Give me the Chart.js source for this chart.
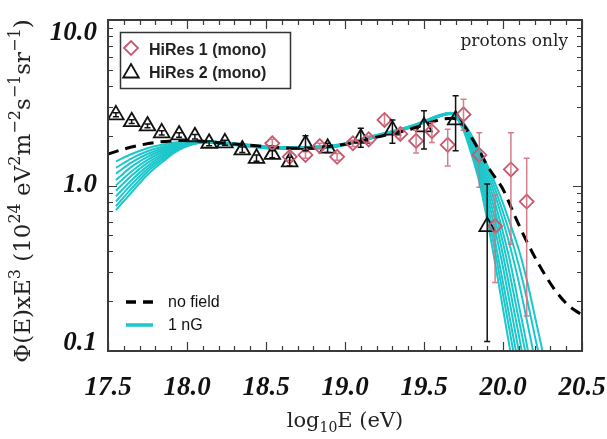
<!DOCTYPE html>
<html>
<head>
<meta charset="utf-8">
<script src="https://cdn.jsdelivr.net/npm/chart.js@4.4.0/dist/chart.umd.min.js"></script>
<style>
    html, body { margin: 0; padding: 0; background: #fff; }
    #wrap { width: 607px; height: 439px; }
</style>
</head>
<body>
<div id="wrap"><canvas id="spectrumChart" width="607" height="439"></canvas></div>
<script>
// HiRes 1 monocular spectrum (log10 E, flux x E^3 in 1e24 units, error range)
const hires1Energy = [18.54, 18.65, 18.75, 18.84, 18.95, 19.05, 19.15, 19.25, 19.35, 19.45, 19.55, 19.65, 19.75, 19.85, 19.95, 20.05, 20.15];
const hires1Flux   = [1.80, 1.49, 1.53, 1.73, 1.49, 1.80, 1.90, 2.49, 2.05, 1.86, 2.13, 1.76, 2.69, 1.53, 0.569, 1.25, 0.80];
const hires1Low    = [1.72, 1.42, 1.46, 1.66, 1.42, 1.72, 1.82, 2.32, 1.92, 1.57, 1.82, 1.31, 2.16, 0.975, 0.259, 0.441, 0.163];
const hires1High   = [1.90, 1.57, 1.60, 1.80, 1.56, 1.88, 1.99, 2.68, 2.20, 2.16, 2.40, 2.19, 3.32, 2.08, 0.877, 2.08, 1.46];

// HiRes 2 monocular spectrum
const hires2Energy = [17.55, 17.65, 17.75, 17.84, 17.95, 18.05, 18.14, 18.24, 18.35, 18.44, 18.54, 18.65, 18.75, 18.89, 19.10, 19.30, 19.50, 19.70, 19.90];
const hires2Flux   = [2.67, 2.43, 2.29, 2.08, 2.02, 1.97, 1.80, 1.81, 1.64, 1.46, 1.54, 1.39, 1.77, 1.68, 1.93, 2.16, 2.26, 2.49, 0.564];
const hires2Low    = [2.60, 2.37, 2.23, 2.02, 1.96, 1.91, 1.74, 1.75, 1.58, 1.40, 1.47, 1.31, 1.62, 1.58, 1.70, 1.80, 1.66, 1.62, 0.114];
const hires2High   = [2.75, 2.50, 2.35, 2.14, 2.08, 2.03, 1.86, 1.88, 1.71, 1.53, 1.62, 1.48, 2.00, 1.80, 2.22, 2.49, 2.83, 3.48, 1.02];

// propagation without magnetic field
const noFieldEnergy = [17.5, 17.6, 17.7, 17.8, 17.9, 18.0, 18.1, 18.3, 18.5, 18.7, 18.9, 19.1, 19.2, 19.4, 19.55, 19.62, 19.68, 19.75, 19.8, 19.85, 19.9, 19.95, 20.0, 20.07, 20.15, 20.23, 20.32, 20.41, 20.5];
const noFieldFlux   = [1.55, 1.66, 1.75, 1.82, 1.86, 1.87, 1.85, 1.78, 1.72, 1.68, 1.72, 1.85, 1.96, 2.17, 2.42, 2.52, 2.55, 2.32, 1.95, 1.62, 1.32, 1.12, 0.95, 0.67, 0.46, 0.33, 0.24, 0.19, 0.165];

// 1 nG field, one curve per source realisation
const nGEnergy = [17.55, 17.65, 17.75, 17.85, 17.95, 18.1, 18.3, 18.6, 18.9, 19.2, 19.45, 19.6, 19.67, 19.75, 19.8, 19.85, 19.9, 19.95, 20.0, 20.05, 20.1, 20.15, 20.2, 20.25, 20.3];
const nGFlux = [
    [1.40, 1.55, 1.68, 1.77, 1.83, 1.86, 1.80, 1.71, 1.74, 2.02, 2.35, 2.67, 2.75, 2.34, 1.92, 1.53, 1.18, 0.87, 0.61, 0.41, 0.26, 0.155, 0.09, 0.05, 0.03],
    [1.28, 1.46, 1.61, 1.72, 1.80, 1.85, 1.79, 1.70, 1.73, 2.00, 2.33, 2.66, 2.74, 2.15, 1.55, 1.05, 0.62, 0.34, 0.18, 0.095, 0.05, 0.03, 0.02, 0.02, 0.02],
    [1.18, 1.38, 1.55, 1.68, 1.78, 1.85, 1.79, 1.70, 1.73, 2.01, 2.34, 2.66, 2.74, 2.40, 2.02, 1.65, 1.33, 1.03, 0.78, 0.57, 0.41, 0.27, 0.165, 0.10, 0.06],
    [1.08, 1.30, 1.49, 1.64, 1.76, 1.84, 1.78, 1.69, 1.72, 1.99, 2.32, 2.65, 2.73, 2.23, 1.72, 1.25, 0.86, 0.54, 0.32, 0.18, 0.10, 0.055, 0.03, 0.02, 0.02],
    [1.00, 1.22, 1.43, 1.60, 1.74, 1.84, 1.78, 1.69, 1.72, 1.99, 2.32, 2.64, 2.72, 2.31, 1.87, 1.46, 1.10, 0.78, 0.52, 0.33, 0.19, 0.11, 0.06, 0.035, 0.02],
    [0.93, 1.15, 1.37, 1.56, 1.72, 1.83, 1.77, 1.68, 1.71, 1.98, 2.31, 2.64, 2.72, 2.18, 1.60, 1.12, 0.70, 0.40, 0.22, 0.12, 0.065, 0.035, 0.02, 0.02, 0.02],
    [0.86, 1.08, 1.31, 1.52, 1.70, 1.83, 1.77, 1.68, 1.71, 1.98, 2.31, 2.63, 2.71, 2.37, 1.97, 1.59, 1.26, 0.95, 0.69, 0.49, 0.33, 0.21, 0.125, 0.075, 0.04],
    [0.80, 1.02, 1.26, 1.48, 1.68, 1.82, 1.76, 1.67, 1.70, 1.97, 2.30, 2.63, 2.71, 2.25, 1.77, 1.32, 0.94, 0.62, 0.38, 0.22, 0.125, 0.07, 0.04, 0.02, 0.02],
    [0.75, 0.96, 1.21, 1.44, 1.66, 1.82, 1.76, 1.67, 1.70, 1.97, 2.30, 2.62, 2.70, 2.20, 1.66, 1.18, 0.78, 0.46, 0.26, 0.145, 0.08, 0.04, 0.02, 0.02, 0.02],
    [0.71, 0.91, 1.16, 1.40, 1.64, 1.81, 1.75, 1.66, 1.69, 1.96, 2.29, 2.62, 2.70, 2.28, 1.82, 1.39, 1.02, 0.70, 0.45, 0.27, 0.155, 0.09, 0.05, 0.03, 0.02]
];

// axis ticks
const xTickValues = [17.5, 18.0, 18.5, 19.0, 19.5, 20.0, 20.5];
const xTickLabels = ['17.5', '18.0', '18.5', '19.0', '19.5', '20.0', '20.5'];
const yTickValues = [0.1, 1, 10];
const yTickLabels = ['0.1', '1.0', '10.0'];

const CYAN = '#1cc7cb';
const PINK = '#c9586e';
const PINK_BAR = 'rgba(208, 112, 128, 0.9)';

function toPoints(xs, ys) {
    return xs.map((x, i) => ({ x: x, y: ys[i] }));
}

// draws text made of normal / superscript / subscript pieces
function drawRich(ctx, parts, cx, y, size, family) {
    const fontOf = k => (k === 0 ? size : Math.round(size * 0.68)) + 'px ' + family;
    let total = 0;
    parts.forEach(p => { ctx.font = fontOf(p[1]); total += ctx.measureText(p[0]).width; });
    let x = cx - total / 2;
    ctx.textAlign = 'left';
    ctx.textBaseline = 'alphabetic';
    parts.forEach(p => {
        ctx.font = fontOf(p[1]);
        const dy = p[1] === 1 ? -size * 0.42 : (p[1] === -1 ? size * 0.25 : 0);
        ctx.fillText(p[0], x, y + dy);
        x += ctx.measureText(p[0]).width;
    });
}

function drawErrorBars(ctx, xScale, yScale, xs, lo, hi, color) {
    ctx.strokeStyle = color;
    ctx.lineWidth = 1.5;
    xs.forEach((e, i) => {
        const px = xScale.getPixelForValue(e);
        const y1 = yScale.getPixelForValue(lo[i]);
        const y2 = yScale.getPixelForValue(hi[i]);
        ctx.beginPath();
        ctx.moveTo(px, y1); ctx.lineTo(px, y2);
        ctx.moveTo(px - 3, y1); ctx.lineTo(px + 3, y1);
        ctx.moveTo(px - 3, y2); ctx.lineTo(px + 3, y2);
        ctx.stroke();
    });
}

const framePlugin = {
    id: 'frame',
    afterDatasetsDraw(chart) {
        const ctx = chart.ctx;
        const area = chart.chartArea;
        const xs = chart.scales.x, ys = chart.scales.y;
        ctx.save();
        ctx.beginPath();
        ctx.rect(area.left, area.top, area.right - area.left, area.bottom - area.top);
        ctx.clip();
        drawErrorBars(ctx, xs, ys, hires1Energy, hires1Low, hires1High, PINK_BAR);
        drawErrorBars(ctx, xs, ys, hires2Energy, hires2Low, hires2High, '#111');
        ctx.restore();
    },
    afterDraw(chart) {
        const ctx = chart.ctx;
        const { left, right, top, bottom } = chart.chartArea;
        const xs = chart.scales.x, ys = chart.scales.y;
        ctx.save();

        // box and inward ticks on all four sides
        ctx.strokeStyle = '#3a3a3a';
        ctx.lineWidth = 2;
        ctx.strokeRect(left, top, right - left, bottom - top);
        ctx.lineWidth = 1.2;
        ctx.beginPath();
        for (let i = 0; i <= 30; i++) {
            const v = 17.5 + i * 0.1;
            const px = Math.round(xs.getPixelForValue(v)) + 0.5;
            const len = i % 5 === 0 ? 9 : 5;
            ctx.moveTo(px, bottom); ctx.lineTo(px, bottom - len);
            ctx.moveTo(px, top); ctx.lineTo(px, top + len);
        }
        [0.1, 1].forEach(d => {
            for (let k = 1; k <= 10; k++) {
                const py = Math.round(ys.getPixelForValue(k * d)) + 0.5;
                const len = (k === 1 || k === 10) ? 9 : 5;
                ctx.moveTo(left, py); ctx.lineTo(left + len, py);
                ctx.moveTo(right, py); ctx.lineTo(right - len, py);
            }
        });
        ctx.stroke();

        // tick labels
        ctx.fillStyle = '#111';
        ctx.font = 'bold italic 27px "Liberation Serif", serif';
        ctx.textAlign = 'center';
        ctx.textBaseline = 'alphabetic';
        xTickValues.forEach((v, i) => {
            ctx.fillText(xTickLabels[i], xs.getPixelForValue(v), bottom + 44);
        });
        ctx.textAlign = 'right';
        ctx.textBaseline = 'middle';
        yTickValues.forEach((v, i) => {
            let py = ys.getPixelForValue(v);
            py = Math.min(Math.max(py, top + 13), bottom - 8);
            ctx.fillText(yTickLabels[i], 97, py);
        });

        // axis titles
        ctx.fillStyle = '#222';
        drawRich(ctx, [['log', 0], ['10', -1], ['E (eV)', 0]], (left + right) / 2, 427, 21, '"DejaVu Serif", serif');
        ctx.save();
        ctx.translate(30, 191);
        ctx.rotate(-Math.PI / 2);
        drawRich(ctx, [
            ['\u03A6(E)xE', 0], ['3', 1], [' (10', 0], ['24', 1], [' eV', 0], ['2', 1],
            ['m', 0], ['\u22122', 1], ['s', 0], ['\u22121', 1], ['sr', 0], ['\u22121', 1], [')', 0]
        ], 0, 0, 23, '"DejaVu Serif", serif');
        ctx.restore();

        // annotation
        ctx.font = '17px "DejaVu Serif", serif';
        ctx.textAlign = 'right';
        ctx.textBaseline = 'alphabetic';
        ctx.fillText('protons only', 568, 46);

        // data legend
        ctx.strokeStyle = '#333';
        ctx.lineWidth = 1.5;
        ctx.strokeRect(120.5, 32.5, 170, 56);
        ctx.fillStyle = 'rgba(0,0,0,0)';
        ctx.strokeStyle = PINK;
        ctx.lineWidth = 1.8;
        Chart.helpers.drawPoint(ctx, { pointStyle: 'rectRot', radius: 7, rotation: 0, borderWidth: 1.8 }, 131, 48);
        ctx.strokeStyle = '#111';
        Chart.helpers.drawPoint(ctx, { pointStyle: 'triangle', radius: 9, rotation: 0, borderWidth: 1.8 }, 131, 73);
        ctx.fillStyle = '#222';
        ctx.font = 'bold 16px "Liberation Sans", Arial, sans-serif';
        ctx.textAlign = 'left';
        ctx.fillText('HiRes 1 (mono)', 149, 55);
        ctx.fillText('HiRes 2 (mono)', 149, 78);

        // model legend
        ctx.lineWidth = 3.5;
        ctx.strokeStyle = '#000';
        ctx.beginPath();
        ctx.moveTo(126, 302); ctx.lineTo(136, 302);
        ctx.moveTo(143, 302); ctx.lineTo(153, 302);
        ctx.stroke();
        ctx.strokeStyle = CYAN;
        ctx.beginPath();
        ctx.moveTo(126, 325); ctx.lineTo(153, 325);
        ctx.stroke();
        ctx.font = '16px "Liberation Sans", Arial, sans-serif';
        ctx.fillStyle = '#111';
        ctx.fillText('no field', 168, 307);
        ctx.fillText('1 nG', 168, 330);

        ctx.restore();
    }
};

const datasets = [];
datasets.push({
    label: 'HiRes 1 (mono)',
    data: toPoints(hires1Energy, hires1Flux),
    showLine: false,
    pointStyle: 'rectRot',
    pointRadius: 7,
    pointBorderWidth: 1.8,
    pointBorderColor: PINK,
    pointBackgroundColor: 'rgba(0,0,0,0)',
    order: 0
});
datasets.push({
    label: 'HiRes 2 (mono)',
    data: toPoints(hires2Energy, hires2Flux),
    showLine: false,
    pointStyle: 'triangle',
    pointRadius: 9,
    pointBorderWidth: 1.8,
    pointBorderColor: '#111',
    pointBackgroundColor: 'rgba(0,0,0,0)',
    order: 0
});
datasets.push({
    label: 'no field',
    data: toPoints(noFieldEnergy, noFieldFlux),
    borderColor: '#000',
    borderWidth: 3,
    borderDash: [11, 7],
    pointRadius: 0,
    cubicInterpolationMode: 'monotone',
    order: 1
});
nGFlux.forEach((curve, i) => {
    datasets.push({
        label: '1 nG #' + (i + 1),
        data: toPoints(nGEnergy, curve),
        borderColor: CYAN,
        borderWidth: 2,
        pointRadius: 0,
        cubicInterpolationMode: 'monotone',
        order: 2
    });
});

new Chart(document.getElementById('spectrumChart'), {
    type: 'line',
    data: { datasets: datasets },
    options: {
        responsive: false,
        animation: false,
        layout: { padding: { top: 20, right: 25, left: 0, bottom: 0 } },
        plugins: {
            legend: { display: false },
            tooltip: { enabled: false }
        },
        scales: {
            x: {
                type: 'linear',
                min: 17.5,
                max: 20.5,
                grid: { display: false },
                border: { display: false },
                ticks: { display: false },
                afterFit: s => { s.height = 88; }
            },
            y: {
                type: 'logarithmic',
                min: 0.1,
                max: 10,
                grid: { display: false },
                border: { display: false },
                ticks: { display: false },
                afterFit: s => { s.width = 108; }
            }
        }
    },
    plugins: [framePlugin]
});
</script>
</body>
</html>
